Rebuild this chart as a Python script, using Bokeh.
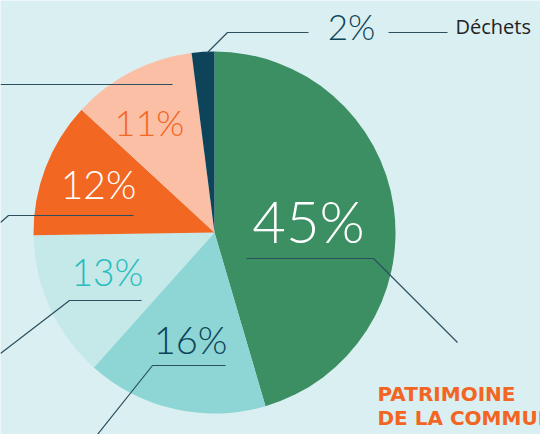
import numpy as np
from bokeh.plotting import figure
from bokeh.models import Range1d
from bokeh.core.properties import value
from bokeh.embed import file_html
from bokeh.resources import INLINE

# ---- data ----
categories = ["Patrimoine de la commune", "Cat16", "Cat13", "Cat12", "Cat11", "Déchets"]
shares = [45, 16, 13, 12, 11, 2]
labels = ["45%", "16%", "13%", "12%", "11%", "2%"]

# ---- styles / layout ----
W, H = 540, 434
BG = "#DAEFF1"
slice_colors = ["#3C8E63", "#8ED5D5", "#C5E8E8", "#F26722", "#FABFA5", "#0D4459"]
label_colors = ["#FFFFFF", "#0D4459", "#25BDBF", "#FFFFFF", "#F26522", "#0D4459"]
label_sizes = [58, 38, 37, 39, 36, 35]
# label baseline positions (pixel coords, y from top)
label_pos = [(308, 240), (190, 351), (107, 284), (98, 197), (149, 134), (351, 37)]
# leader lines (pixel coords)
leaders = [
    [(246, 258), (373, 258), (457, 342)],
    [(225, 365), (152, 365), (97, 434)],
    [(141, 300), (69, 300), (0, 353)],
    [(133, 215), (8, 215), (0, 222)],
    [(172, 84), (0, 84)],
    [(206, 53), (227, 32), (308, 32)],
    [(388, 32), (447, 32)],
]
LINE = "#2B4F5E"
cx, cy, R = 214, 232, 181
SHIFT = 0.34  # compensation for baseline rendering

def fy(y):
    return H - y

p = figure(width=W, height=H, output_backend="svg", toolbar_location=None,
           x_range=Range1d(0, W), y_range=Range1d(0, H), min_border=0)
p.axis.visible = False
p.grid.visible = False
p.outline_line_color = None
p.background_fill_color = BG
p.border_fill_color = BG

vals = np.array(shares, dtype=float)
cum = np.concatenate([[0], np.cumsum(vals)]) / vals.sum()
start = np.pi / 2 - cum[:-1] * 2 * np.pi
end = np.pi / 2 - cum[1:] * 2 * np.pi

p.wedge(x=[cx] * len(vals), y=[fy(cy)] * len(vals), radius=R,
        start_angle=list(start), end_angle=list(end), direction="clock",
        fill_color=slice_colors, line_color=None)

for pts in leaders:
    xs = [a for a, b in pts]
    ys = [fy(b) for a, b in pts]
    p.line(xs, ys, line_color=LINE, line_width=1.2)

for lab, (x, y), c, s in zip(labels, label_pos, label_colors, label_sizes):
    p.text(x=[x], y=[fy(y - SHIFT * s)], text=[lab], text_color=c,
           text_font_size=f"{s}px", text_align="center",
           text_baseline="alphabetic",
           text_font=value("Lato Light, Lato, DejaVu Sans"))

def side_text(x, y, s, txt, color, font, style="normal"):
    p.text(x=[x], y=[fy(y - SHIFT * s)], text=[txt], text_color=color,
           text_font_size=f"{s}px", text_font_style=style, text_align="left",
           text_baseline="alphabetic", text_font=value(font))

side_text(455, 33, 20, "Déchets", "#222222", "Open Sans")
side_text(377, 400, 20, "PATRIMOINE", "#F26522", "DejaVu Sans", "bold")
side_text(377, 424, 20, "DE LA COMMUNE", "#F26522", "DejaVu Sans", "bold")

open("out.html", "w").write(file_html(p, INLINE))
